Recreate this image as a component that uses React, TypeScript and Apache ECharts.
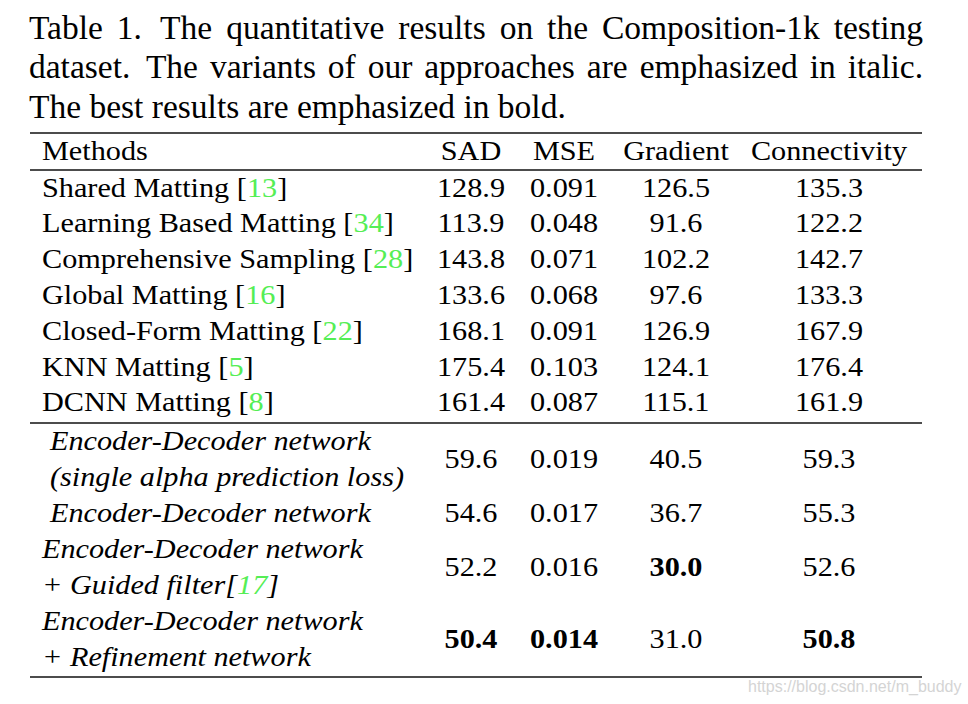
import React, { useEffect, useRef } from 'react';
import * as echarts from 'echarts';

// ---------------- data ----------------
const captionLines = [
  'Table 1. The quantitative results on the Composition-1k testing',
  'dataset. The variants of our approaches are emphasized in italic.',
  'The best results are emphasized in bold.',
];
const captionJustified = [true, true, false];

const methodHeader = 'Methods';
const columns = ['SAD', 'MSE', 'Gradient', 'Connectivity'];
const columnDecimals = [1, 3, 1, 1];

// method names ({g|..} marks the green citation number)
const methodLines: string[][] = [
  ['Shared Matting [{g|13}]'],
  ['Learning Based Matting [{g|34}]'],
  ['Comprehensive Sampling [{g|28}]'],
  ['Global Matting [{g|16}]'],
  ['Closed-Form Matting [{g|22}]'],
  ['KNN Matting [{g|5}]'],
  ['DCNN Matting [{g|8}]'],
  ['Encoder-Decoder network', '(single alpha prediction loss)'],
  ['Encoder-Decoder network'],
  ['Encoder-Decoder network', '+ Guided filter[{g|17}]'],
  ['Encoder-Decoder network', '+ Refinement network'],
];
const oursFrom = 7; // rows from this index are our variants (italic)

const sad = [128.9, 113.9, 143.8, 133.6, 168.1, 175.4, 161.4, 59.6, 54.6, 52.2, 50.4];
const mse = [0.091, 0.048, 0.071, 0.068, 0.091, 0.103, 0.087, 0.019, 0.017, 0.016, 0.014];
const gradient = [126.5, 91.6, 102.2, 97.6, 126.9, 124.1, 115.1, 40.5, 36.7, 30.0, 31.0];
const connectivity = [135.3, 122.2, 142.7, 133.3, 167.9, 176.4, 161.9, 59.3, 55.3, 52.6, 50.8];
const columnValues = [sad, mse, gradient, connectivity];

const watermark = 'https://blog.csdn.net/m_buddy';

// ---------------- layout / style ----------------
const SERIF = '"Liberation Serif", "Times New Roman", Times, serif';
const GREEN = '#55ee55';
const CAP_SIZE = 33.5;
const TAB_SIZE = 28;
const TAB_SCALE_X = 1.08;
const LAYOUT = {
  captionX1: 29,
  captionX2: 923,
  captionY: [27, 66, 106],
  ruleX1: 30,
  ruleX2: 922,
  rules: [133, 170, 423, 677],
  headerY: 150,
  firstRowY: 187,
  rowStep: 35.8,
  oursFirstY: 440,
  lineStep: 36,
  methodX: 42,
  indentX: 50,
  indentedRows: [7, 8],
  colX: [471, 564, 676, 829],
};

function measure(text: string, font: string): number {
  const ctx = document.createElement('canvas').getContext('2d');
  if (!ctx) return text.length * 14;
  ctx.font = font;
  return ctx.measureText(text).width;
}

function buildElements(): any[] {
  const els: any[] = [];
  const capFont = `${CAP_SIZE}px ${SERIF}`;

  // caption
  captionLines.forEach((line, i) => {
    const y = LAYOUT.captionY[i];
    const base = { fill: '#000', fontSize: CAP_SIZE, fontFamily: SERIF, align: 'left', verticalAlign: 'middle' };
    if (!captionJustified[i]) {
      els.push({ type: 'text', x: LAYOUT.captionX1, y, style: { ...base, text: line } });
      return;
    }
    const words = line.split(' ');
    const widths = words.map((w) => measure(w, capFont));
    const gaps = words.slice(0, -1).map((w) => (/\.$/.test(w) ? 1.3 : 1));
    const free = LAYOUT.captionX2 - LAYOUT.captionX1 - widths.reduce((a, b) => a + b, 0);
    const unit = free / gaps.reduce((a, b) => a + b, 0);
    let x = LAYOUT.captionX1;
    words.forEach((w, k) => {
      els.push({ type: 'text', x, y, style: { ...base, text: w } });
      x += widths[k] + (gaps[k] || 0) * unit;
    });
  });

  // rules
  LAYOUT.rules.forEach((y) => {
    els.push({
      type: 'line',
      shape: { x1: LAYOUT.ruleX1, y1: y, x2: LAYOUT.ruleX2, y2: y },
      style: { stroke: '#111', lineWidth: 1.3 },
    });
  });

  const tab = (x: number, y: number, text: string, align: string, extra: any = {}) => ({
    type: 'text',
    x,
    y,
    scaleX: TAB_SCALE_X,
    style: {
      text,
      fill: '#000',
      fontSize: TAB_SIZE,
      fontFamily: SERIF,
      align,
      verticalAlign: 'middle',
      rich: { g: { fill: GREEN } },
      ...extra,
    },
  });

  // header
  els.push(tab(LAYOUT.methodX, LAYOUT.headerY, methodHeader, 'left'));
  columns.forEach((c, j) => els.push(tab(LAYOUT.colX[j], LAYOUT.headerY, c, 'center')));

  // best values per column
  const best = columnValues.map((vals) => Math.min(...vals));

  let cursor = 0;
  methodLines.forEach((lines, r) => {
    let ys: number[];
    if (r < oursFrom) {
      ys = [LAYOUT.firstRowY + r * LAYOUT.rowStep];
    } else {
      ys = lines.map((_, k) => LAYOUT.oursFirstY + (cursor + k) * LAYOUT.lineStep);
      cursor += lines.length;
    }
    const italic = r >= oursFrom;
    const x = LAYOUT.indentedRows.indexOf(r) >= 0 ? LAYOUT.indentX : LAYOUT.methodX;
    lines.forEach((ln, k) => {
      els.push(tab(x, ys[k], ln, 'left', italic ? { fontStyle: 'italic' } : {}));
    });
    const yc = ys.reduce((a, b) => a + b, 0) / ys.length;
    columnValues.forEach((vals, j) => {
      const v = vals[r];
      const isBest = v === best[j];
      els.push(
        tab(LAYOUT.colX[j], yc, v.toFixed(columnDecimals[j]), 'center', isBest ? { fontWeight: 'bold' } : {})
      );
    });
  });

  // watermark
  els.push({
    type: 'text',
    x: 748,
    y: 686,
    style: {
      text: watermark,
      fill: '#d4d4d4',
      fontSize: 16,
      fontFamily: '"Liberation Sans", Arial, sans-serif',
      align: 'left',
      verticalAlign: 'middle',
    },
  });

  return els;
}

export default function App() {
  const ref = useRef<HTMLDivElement>(null);
  useEffect(() => {
    if (!ref.current) return;
    const chart = echarts.init(ref.current, undefined, { renderer: 'svg' });
    chart.setOption({
      animation: false,
      backgroundColor: '#ffffff',
      graphic: { elements: buildElements() },
    });
    return () => chart.dispose();
  }, []);
  return (
    <div
      ref={ref}
      style={{ position: 'absolute', left: 0, top: 0, width: 968, height: 704, background: '#fff' }}
    />
  );
}
